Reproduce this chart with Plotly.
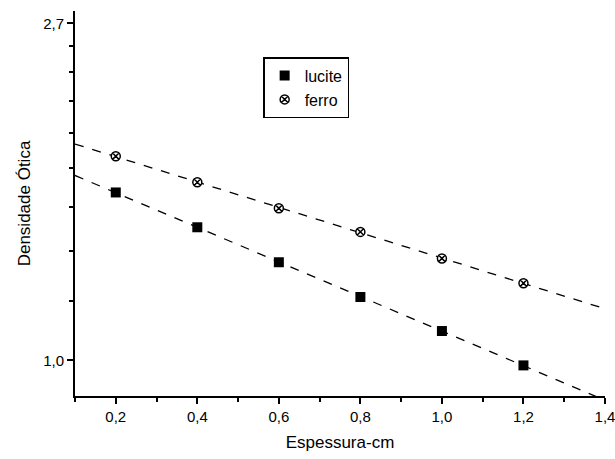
import numpy as np
import plotly.graph_objects as go

thickness = [0.2, 0.4, 0.6, 0.8, 1.0, 1.2]
lucite = [1.64, 1.48, 1.335, 1.205, 1.09, 0.985]
ferro = [1.825, 1.69, 1.565, 1.46, 1.35, 1.255]

x_ticks = [0.2, 0.4, 0.6, 0.8, 1.0, 1.2, 1.4]
y_ticks = [1.0, 2.7]
y_tick_text = ["1,0", "2,7"]
y_minor = [1 + k * (np.e - 1) / 9 for k in range(1, 9)]

fit_x = np.array([0.1, 1.4])

FONT = "Liberation Sans, Arial, sans-serif"

fig = go.Figure()

for vals in (lucite, ferro):
    b, a = np.polyfit(thickness, np.log(vals), 1)
    fig.add_trace(go.Scatter(x=fit_x, y=np.exp(a + b * fit_x), mode="lines",
                             line=dict(color="black", width=1.3, dash="dash"),
                             showlegend=False, hoverinfo="skip"))

fig.add_trace(go.Scatter(x=thickness, y=lucite, mode="markers", name="lucite",
                         marker=dict(symbol="square", size=10, color="black",
                                     line=dict(color="black", width=0))))
fig.add_trace(go.Scatter(x=thickness, y=ferro, mode="markers", name="ferro",
                         marker=dict(symbol="circle-x", size=9, color="white",
                                     line=dict(color="black", width=1.5))))

fig.update_layout(
    width=615, height=459,
    margin=dict(l=75, r=10, t=11, b=63),
    paper_bgcolor="white", plot_bgcolor="white",
    separators=", ",
    font=dict(family=FONT, color="black", size=15),
    legend=dict(x=0.355, y=0.88, xanchor="left", yanchor="top",
                bordercolor="black", borderwidth=1.5, bgcolor="white",
                font=dict(size=16, family=FONT), tracegroupgap=0,
                itemwidth=30),
    xaxis=dict(range=[0.1, 1.4], tickvals=x_ticks, tickformat=".1f",
               automargin=False, ticklabeloverflow="allow",
               showline=True, linecolor="black", linewidth=2,
               ticks="outside", ticklen=6, tickwidth=2, tickcolor="black",
               showgrid=False, zeroline=False,
               minor=dict(dtick=0.1, tick0=0.1, ticks="outside", ticklen=4,
                          tickwidth=2, tickcolor="black"),
               title=dict(text="Espessura-cm", font=dict(size=17), standoff=12),
               tickfont=dict(size=15)),
    yaxis=dict(type="log", range=[np.log10(0.9), np.log10(2.8)],
               tickvals=y_ticks, ticktext=y_tick_text,
               automargin=False, ticklabeloverflow="allow",
               showline=True, linecolor="black", linewidth=2,
               ticks="outside", ticklen=6, tickwidth=2, tickcolor="black",
               showgrid=False, zeroline=False,
               minor=dict(tickmode="array", tickvals=y_minor, ticks="outside",
                          ticklen=4, tickwidth=2, tickcolor="black"),
               title=dict(text="Densidade Ótica", font=dict(size=17), standoff=8),
               tickfont=dict(size=15)),
)

fig.write_html("out.html", config={"displayModeBar": False},
               post_script="document.body.style.margin='0';document.body.style.padding='0';")
